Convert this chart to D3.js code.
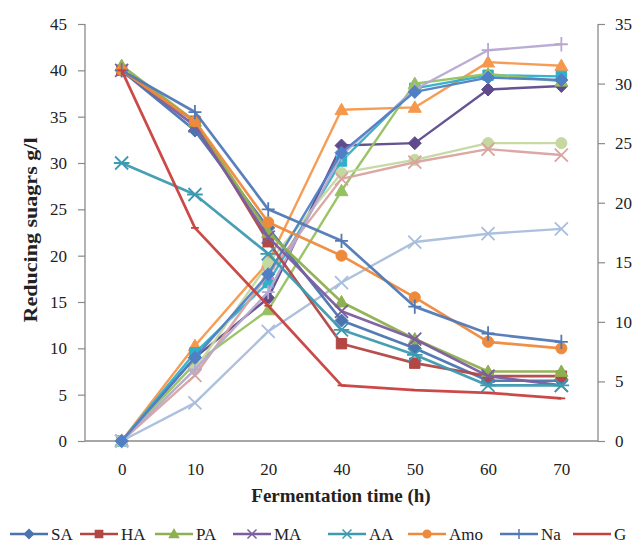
<!DOCTYPE html>
<html>
<head>
<meta charset="utf-8">
<script src="https://cdn.jsdelivr.net/npm/d3@7"></script>
<style>
  html, body { margin: 0; padding: 0; background: #fff; }
  svg { display: block; }
  text { font-family: "Liberation Serif", "Times New Roman", serif; fill: #222; }
</style>
</head>
<body>
<svg id="chart" width="639" height="546"></svg>
<script>
// ---------- data ----------
const categories = ["0", "10", "20", "40", "50", "60", "70"];
const leftTicks = [0, 5, 10, 15, 20, 25, 30, 35, 40, 45];
const rightTicks = [0, 5, 10, 15, 20, 25, 30, 35];

// Reducing sugars (left axis, g/l)
const sugarNames = ["SA", "HA", "PA", "MA", "AA", "Amo", "Na", "G"];
const sugarSA  = [40, 33.5, 23, 13, 10, 6.5, 6.5];
const sugarHA  = [40, 34.5, 21.5, 10.5, 8.4, 7, 7];
const sugarPA  = [40.5, 34.5, 22.5, 15, 11, 7.5, 7.5];
const sugarMA  = [40, 34, 22, 14, 11, 7, 6];
const sugarAA  = [30, 26.6, 20.2, 12, 9.3, 6, 6];
const sugarAmo = [40, 34.5, 23.6, 20, 15.5, 10.7, 10];
const sugarNa  = [40, 35.5, 25, 21.6, 14.5, 11.6, 10.7];
const sugarG   = [40, 23, 14.6, 6, 5.5, 5.2, 4.6];

// Rising series (right axis)
const riseA = [0, 7, 12, 24.8, 25, 29.5, 29.8];
const riseB = [0, 8, 15, 27.8, 28, 31.8, 31.5];
const riseC = [0, 7.4, 13.3, 23.5, 29.6, 30.7, 30.6];
const riseD = [0, 6.5, 11, 21, 30, 30.8, 30.2];
const riseE = [0, 6, 14.9, 22.5, 23.6, 25, 25];
const riseF = [0, 5.5, 14, 22, 23.4, 24.5, 24];
const riseG = [0, 3.2, 9.2, 13.3, 16.7, 17.4, 17.8];
const riseH = [0, 6, 12.5, 24, 29.5, 32.8, 33.3];
const riseI = [0, 7, 14, 24.2, 29.3, 30.5, 30.3];

// ---------- styles ----------
const sugarColors = ["#4A74B0", "#B24744", "#8FB050", "#7A5E9E", "#3E9AB0", "#EE8A3C", "#5079B6", "#C8403E"];
const sugarMarkers = ["diamond", "square", "triangle", "x", "star", "circle", "plus", "dash"];
const riseColors = ["#5E4A8C", "#F6984C", "#2FAFC9", "#96C160", "#C4D8A0", "#D9A3A0", "#A9BEDC", "#B7A8D2", "#4F7FC4"];
const riseMarkers = ["diamond", "triangle", "square", "triangle", "circle", "x", "x", "plus", "diamond"];
const legendStarts = [10, 80, 155, 233, 328, 408, 500, 573];

const sugarData = [sugarSA, sugarHA, sugarPA, sugarMA, sugarAA, sugarAmo, sugarNa, sugarG];
const riseData = [riseA, riseB, riseC, riseD, riseE, riseF, riseG, riseH, riseI];

// ---------- layout ----------
const svg = d3.select("#chart");
const mLeft = 85, mRight = 598, mTop = 24, mBottom = 441;

const x = d3.scalePoint().domain(categories).range([mLeft, mRight]).padding(0.5);
const yL = d3.scaleLinear().domain([0, 45]).range([mBottom, mTop]);
const yR = d3.scaleLinear().domain([0, 35]).range([mBottom, mTop]);

// axes
const axisColor = "#8a8a8a";
const gL = svg.append("g").attr("transform", `translate(${mLeft},0)`)
  .call(d3.axisLeft(yL).tickValues(leftTicks).tickSize(7).tickPadding(11));
const gR = svg.append("g").attr("transform", `translate(${mRight},0)`)
  .call(d3.axisRight(yR).tickValues(rightTicks).tickSize(7).tickPadding(10));
const gX = svg.append("g").attr("transform", `translate(0,${mBottom})`)
  .call(d3.axisBottom(x).tickSize(0).tickPadding(22));
[gL, gR, gX].forEach(g => {
  g.select(".domain").attr("stroke", axisColor).attr("stroke-width", 1.3);
  g.selectAll(".tick line").attr("stroke", axisColor).attr("stroke-width", 1.2);
  g.selectAll(".tick text").attr("font-family", "Liberation Serif").attr("font-size", 17).attr("fill", "#333");
});
gX.select(".domain").attr("d", `M${mLeft},0H${mRight}`);
gL.select(".domain").attr("d", `M0,${mTop}V${mBottom}`);
gR.select(".domain").attr("d", `M0,${mTop}V${mBottom}`);

// titles
svg.append("text")
  .attr("x", 341).attr("y", 502)
  .attr("text-anchor", "middle")
  .attr("font-weight", "bold").attr("font-size", 19)
  .text("Fermentation time (h)");
svg.append("text")
  .attr("transform", `translate(37,230) rotate(-90)`)
  .attr("text-anchor", "middle")
  .attr("font-weight", "bold").attr("font-size", 19)
  .attr("textLength", 185).attr("lengthAdjust", "spacingAndGlyphs")
  .text("Reducing suagrs g/l");

// marker paths
function markerPath(type, s) {
  switch (type) {
    case "diamond": return `M0,${-s}L${s},0L0,${s}L${-s},0Z`;
    case "square": return `M${-s*0.8},${-s*0.8}H${s*0.8}V${s*0.8}H${-s*0.8}Z`;
    case "triangle": return `M0,${-s}L${s},${s*0.75}L${-s},${s*0.75}Z`;
    case "circle": return `M${-s*0.85},0A${s*0.85},${s*0.85} 0 1,0 ${s*0.85},0A${s*0.85},${s*0.85} 0 1,0 ${-s*0.85},0Z`;
    case "x": return `M${-s},${-s}L${s},${s}M${-s},${s}L${s},${-s}`;
    case "star": return `M${-s},${-s}L${s},${s}M${-s},${s}L${s},${-s}M${-s*1.2},0H${s*1.2}`;
    case "plus": return `M0,${-s*1.1}V${s*1.1}M${-s},0H${s}`;
    case "dash": return `M${-s*0.6},0H${s*0.6}`;
  }
}
const filled = t => ["diamond", "square", "triangle", "circle"].includes(t);

function drawSeries(values, yScale, color, marker, width, msize) {
  const line = d3.line().x((d, i) => x(categories[i])).y(d => yScale(d));
  svg.append("path").datum(values)
    .attr("d", line).attr("fill", "none")
    .attr("stroke", color).attr("stroke-width", width)
    .attr("stroke-linejoin", "round").attr("opacity", 0.95);
  svg.append("g").selectAll("path").data(values).join("path")
    .attr("transform", (d, i) => `translate(${x(categories[i])},${yScale(d)})`)
    .attr("d", markerPath(marker, msize))
    .attr("fill", filled(marker) ? color : "none")
    .attr("stroke", color).attr("stroke-width", filled(marker) ? 1 : 1.8);
}

// rising series (right axis)
riseData.forEach((vals, i) => drawSeries(vals, yR, riseColors[i], riseMarkers[i], 2.4, 6.5));
// sugar series (left axis)
sugarData.forEach((vals, i) => drawSeries(vals, yL, sugarColors[i], sugarMarkers[i], 2.7, 6.5));

// legend
const legend = svg.append("g");
const ly = 534;
sugarNames.forEach((name, i) => {
  const lx = legendStarts[i];
  const g = legend.append("g");
  g.append("line").attr("x1", lx).attr("x2", lx + 38).attr("y1", ly).attr("y2", ly)
    .attr("stroke", sugarColors[i]).attr("stroke-width", 2.6);
  g.append("path").attr("transform", `translate(${lx + 19},${ly})`)
    .attr("d", markerPath(sugarMarkers[i], 4.5))
    .attr("fill", filled(sugarMarkers[i]) ? sugarColors[i] : "none")
    .attr("stroke", sugarColors[i]).attr("stroke-width", 1.5);
  g.append("text").attr("x", lx + 41).attr("y", ly + 6)
    .attr("font-size", 17).text(name);
});
</script>
</body>
</html>
